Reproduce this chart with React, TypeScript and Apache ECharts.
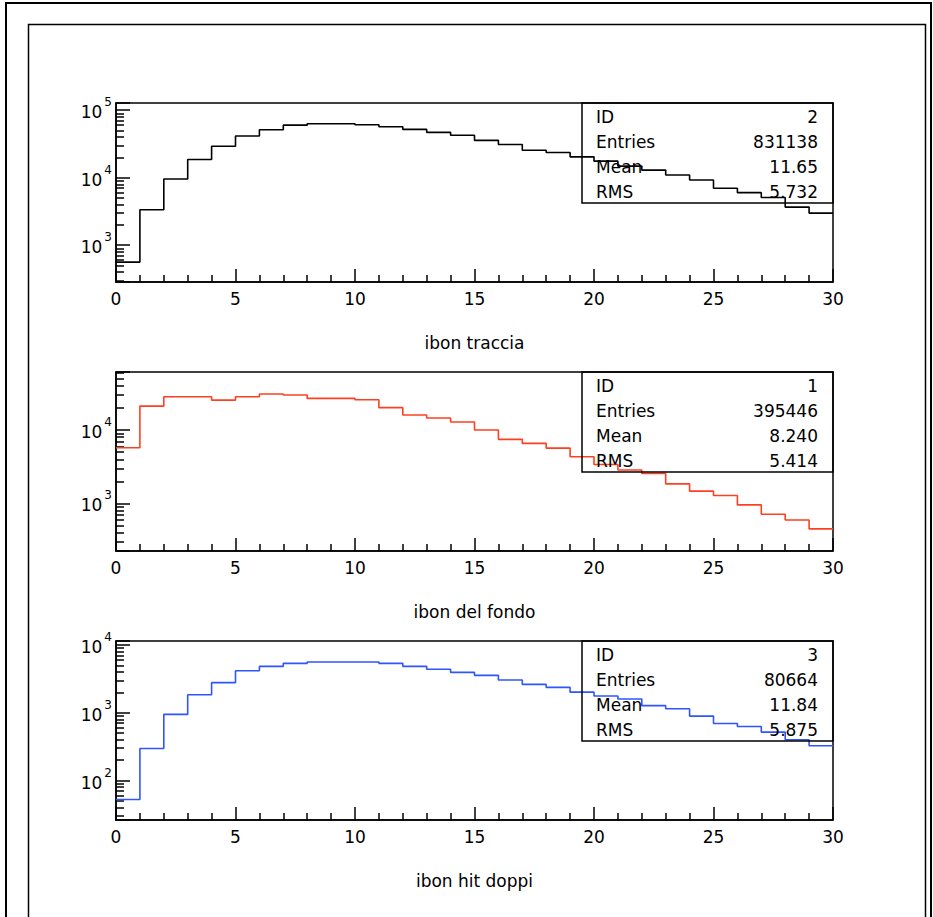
import React, { useEffect, useRef } from "react";
import * as echarts from "echarts";

// ---- data ----
const binEdges = [0, 30];
const histTraccia = [
  562, 3350, 9570, 18650, 29260, 41500, 51500, 60100, 63100, 63100,
  60900, 57000, 52000, 47000, 42500, 35800, 31000, 25500, 23600, 20400,
  17600, 14860, 12980, 10960, 9250, 6980, 6010, 5080, 3670, 2990,
];
const histFondo = [
  5740, 21200, 28400, 28400, 25600, 28400, 31000, 30000, 27000, 27000,
  25900, 20200, 16000, 14600, 12900, 10000, 7470, 6580, 5680, 4330,
  3400, 2850, 2560, 1850, 1470, 1285, 955, 713, 596, 450,
];
const histDoppi = [
  52.6, 297, 944, 1840, 2770, 4160, 4820, 5330, 5570, 5570,
  5570, 5330, 4820, 4360, 3930, 3550, 3030, 2610, 2360, 2010,
  1760, 1590, 1270, 1145, 891, 695, 628, 518, 400, 326,
];
const titles = ["ibon traccia", "ibon del fondo", "ibon hit doppi"];
const statLabels = ["ID", "Entries", "Mean", "RMS"];
const statsTraccia = ["2", "831138", "11.65", "5.732"];
const statsFondo = ["1", "395446", "8.240", "5.414"];
const statsDoppi = ["3", "80664", "11.84", "5.875"];
const yRanges = [
  [285, 128000],
  [225, 61800],
  [26.3, 11380],
];
const minorMultipliers = [2, 3, 4, 5, 6, 7, 8, 9];
const decades = [1, 10, 100, 1000, 10000, 100000];
const colors = ["#000000", "#ff4020", "#2f55ff"];

const FONT = "DejaVu Sans";

export default function App() {
  const ref = useRef<HTMLDivElement>(null);

  useEffect(() => {
    if (!ref.current) return;
    const chart = echarts.init(ref.current, null, { renderer: "svg" });

    const hists = [histTraccia, histFondo, histDoppi];
    const stats = [statsTraccia, statsFondo, statsDoppi];
    const tops = [103, 372, 641];
    const gridLeft = 116;
    const gridWidth = 717;
    const gridHeight = 179;

    const minorValues: number[] = [];
    decades.forEach((d) => minorMultipliers.forEach((m) => minorValues.push(m * d)));

    const grids = tops.map((t) => ({
      left: gridLeft,
      top: t,
      width: gridWidth,
      height: gridHeight,
      show: true,
      borderColor: "#000",
      borderWidth: 1.5,
      backgroundColor: "transparent",
      containLabel: false,
    }));

    const xAxes = tops.map((_, i) => ({
      type: "value",
      gridIndex: i,
      min: binEdges[0],
      max: binEdges[1],
      interval: 5,
      name: titles[i],
      nameLocation: "middle",
      nameGap: 52,
      nameTextStyle: { fontFamily: FONT, fontSize: 17, color: "#000" },
      axisLine: { show: true, lineStyle: { color: "#000", width: 1.5 } },
      axisTick: { show: true, inside: true, length: 13, lineStyle: { color: "#000", width: 1.5 } },
      minorTick: { show: true, splitNumber: 5, length: 7, lineStyle: { color: "#000", width: 1.5 } },
      splitLine: { show: false },
      minorSplitLine: { show: false },
      axisLabel: { fontFamily: FONT, fontSize: 17, color: "#000", margin: 8 },
    }));

    const isPow10 = (v: number) => {
      const l = Math.log10(v);
      return Math.abs(l - Math.round(l)) < 1e-6;
    };

    const yAxes: any[] = [];
    tops.forEach((_, i) => {
      yAxes.push({
        type: "log",
        logBase: 10,
        gridIndex: i,
        position: "left",
        min: yRanges[i][0],
        max: yRanges[i][1],
        axisLine: { show: true, lineStyle: { color: "#000", width: 1.5 } },
        axisTick: { show: true, inside: true, length: 14, lineStyle: { color: "#000", width: 1.5 } },
        splitLine: { show: false },
        axisLabel: {
          margin: 4,
          formatter: (v: number) =>
            isPow10(v) ? `{b|10}{e|${Math.round(Math.log10(v))}}` : "",
          rich: {
            b: { fontFamily: FONT, fontSize: 17, color: "#000", padding: [4, 0, 0, 0] },
            e: { fontFamily: FONT, fontSize: 12, color: "#000", padding: [0, 0, 16, 2] },
          },
        },
      });
      yAxes.push({
        type: "log",
        logBase: 10,
        gridIndex: i,
        position: "left",
        min: yRanges[i][0],
        max: yRanges[i][1],
        axisLine: { show: false },
        axisLabel: { show: false },
        splitLine: { show: false },
        axisTick: {
          show: true,
          inside: true,
          length: 8,
          customValues: minorValues,
          lineStyle: { color: "#000", width: 1.5 },
        },
      });
    });

    const series = hists.map((h, i) => ({
      type: "line",
      xAxisIndex: i,
      yAxisIndex: 2 * i,
      step: "end",
      symbol: "none",
      data: h.map((v, k) => [k, v]).concat([[binEdges[1], h[h.length - 1]]]),
      lineStyle: { color: colors[i], width: 1.6 },
      itemStyle: { color: colors[i] },
      clip: true,
    }));

    const graphics: any[] = [
      {
        type: "rect",
        shape: { x: 6, y: 3, width: 925, height: 940 },
        style: { fill: "none", stroke: "#000", lineWidth: 2 },
        silent: true,
      },
      {
        type: "rect",
        shape: { x: 28.5, y: 24.5, width: 897, height: 940 },
        style: { fill: "none", stroke: "#000", lineWidth: 1.5 },
        silent: true,
      },
    ];
    tops.forEach((t, i) => {
      graphics.push({
        type: "rect",
        shape: { x: 582, y: t, width: 251, height: 100 },
        style: { fill: "none", stroke: "#000", lineWidth: 1.5 },
        silent: true,
        z: 10,
      });
      statLabels.forEach((lab, k) => {
        const y = t + 13.5 + 25.3 * k;
        graphics.push({
          type: "text",
          x: 596,
          y,
          z: 10,
          style: {
            text: lab,
            fontFamily: FONT,
            fontSize: 17,
            fill: "#000",
            align: "left",
            verticalAlign: "middle",
            textAlign: "left",
            textVerticalAlign: "middle",
          },
        });
        graphics.push({
          type: "text",
          x: 818,
          y,
          z: 10,
          style: {
            text: stats[i][k],
            fontFamily: FONT,
            fontSize: 17,
            fill: "#000",
            align: "right",
            verticalAlign: "middle",
            textAlign: "right",
            textVerticalAlign: "middle",
          },
        });
      });
    });

    chart.setOption({
      animation: false,
      backgroundColor: "#fff",
      grid: grids,
      xAxis: xAxes,
      yAxis: yAxes,
      series,
      graphic: graphics,
    } as any);

    return () => chart.dispose();
  }, []);

  return (
    <div
      ref={ref}
      style={{ position: "fixed", left: 0, top: 0, width: 933, height: 917, background: "#fff" }}
    />
  );
}
